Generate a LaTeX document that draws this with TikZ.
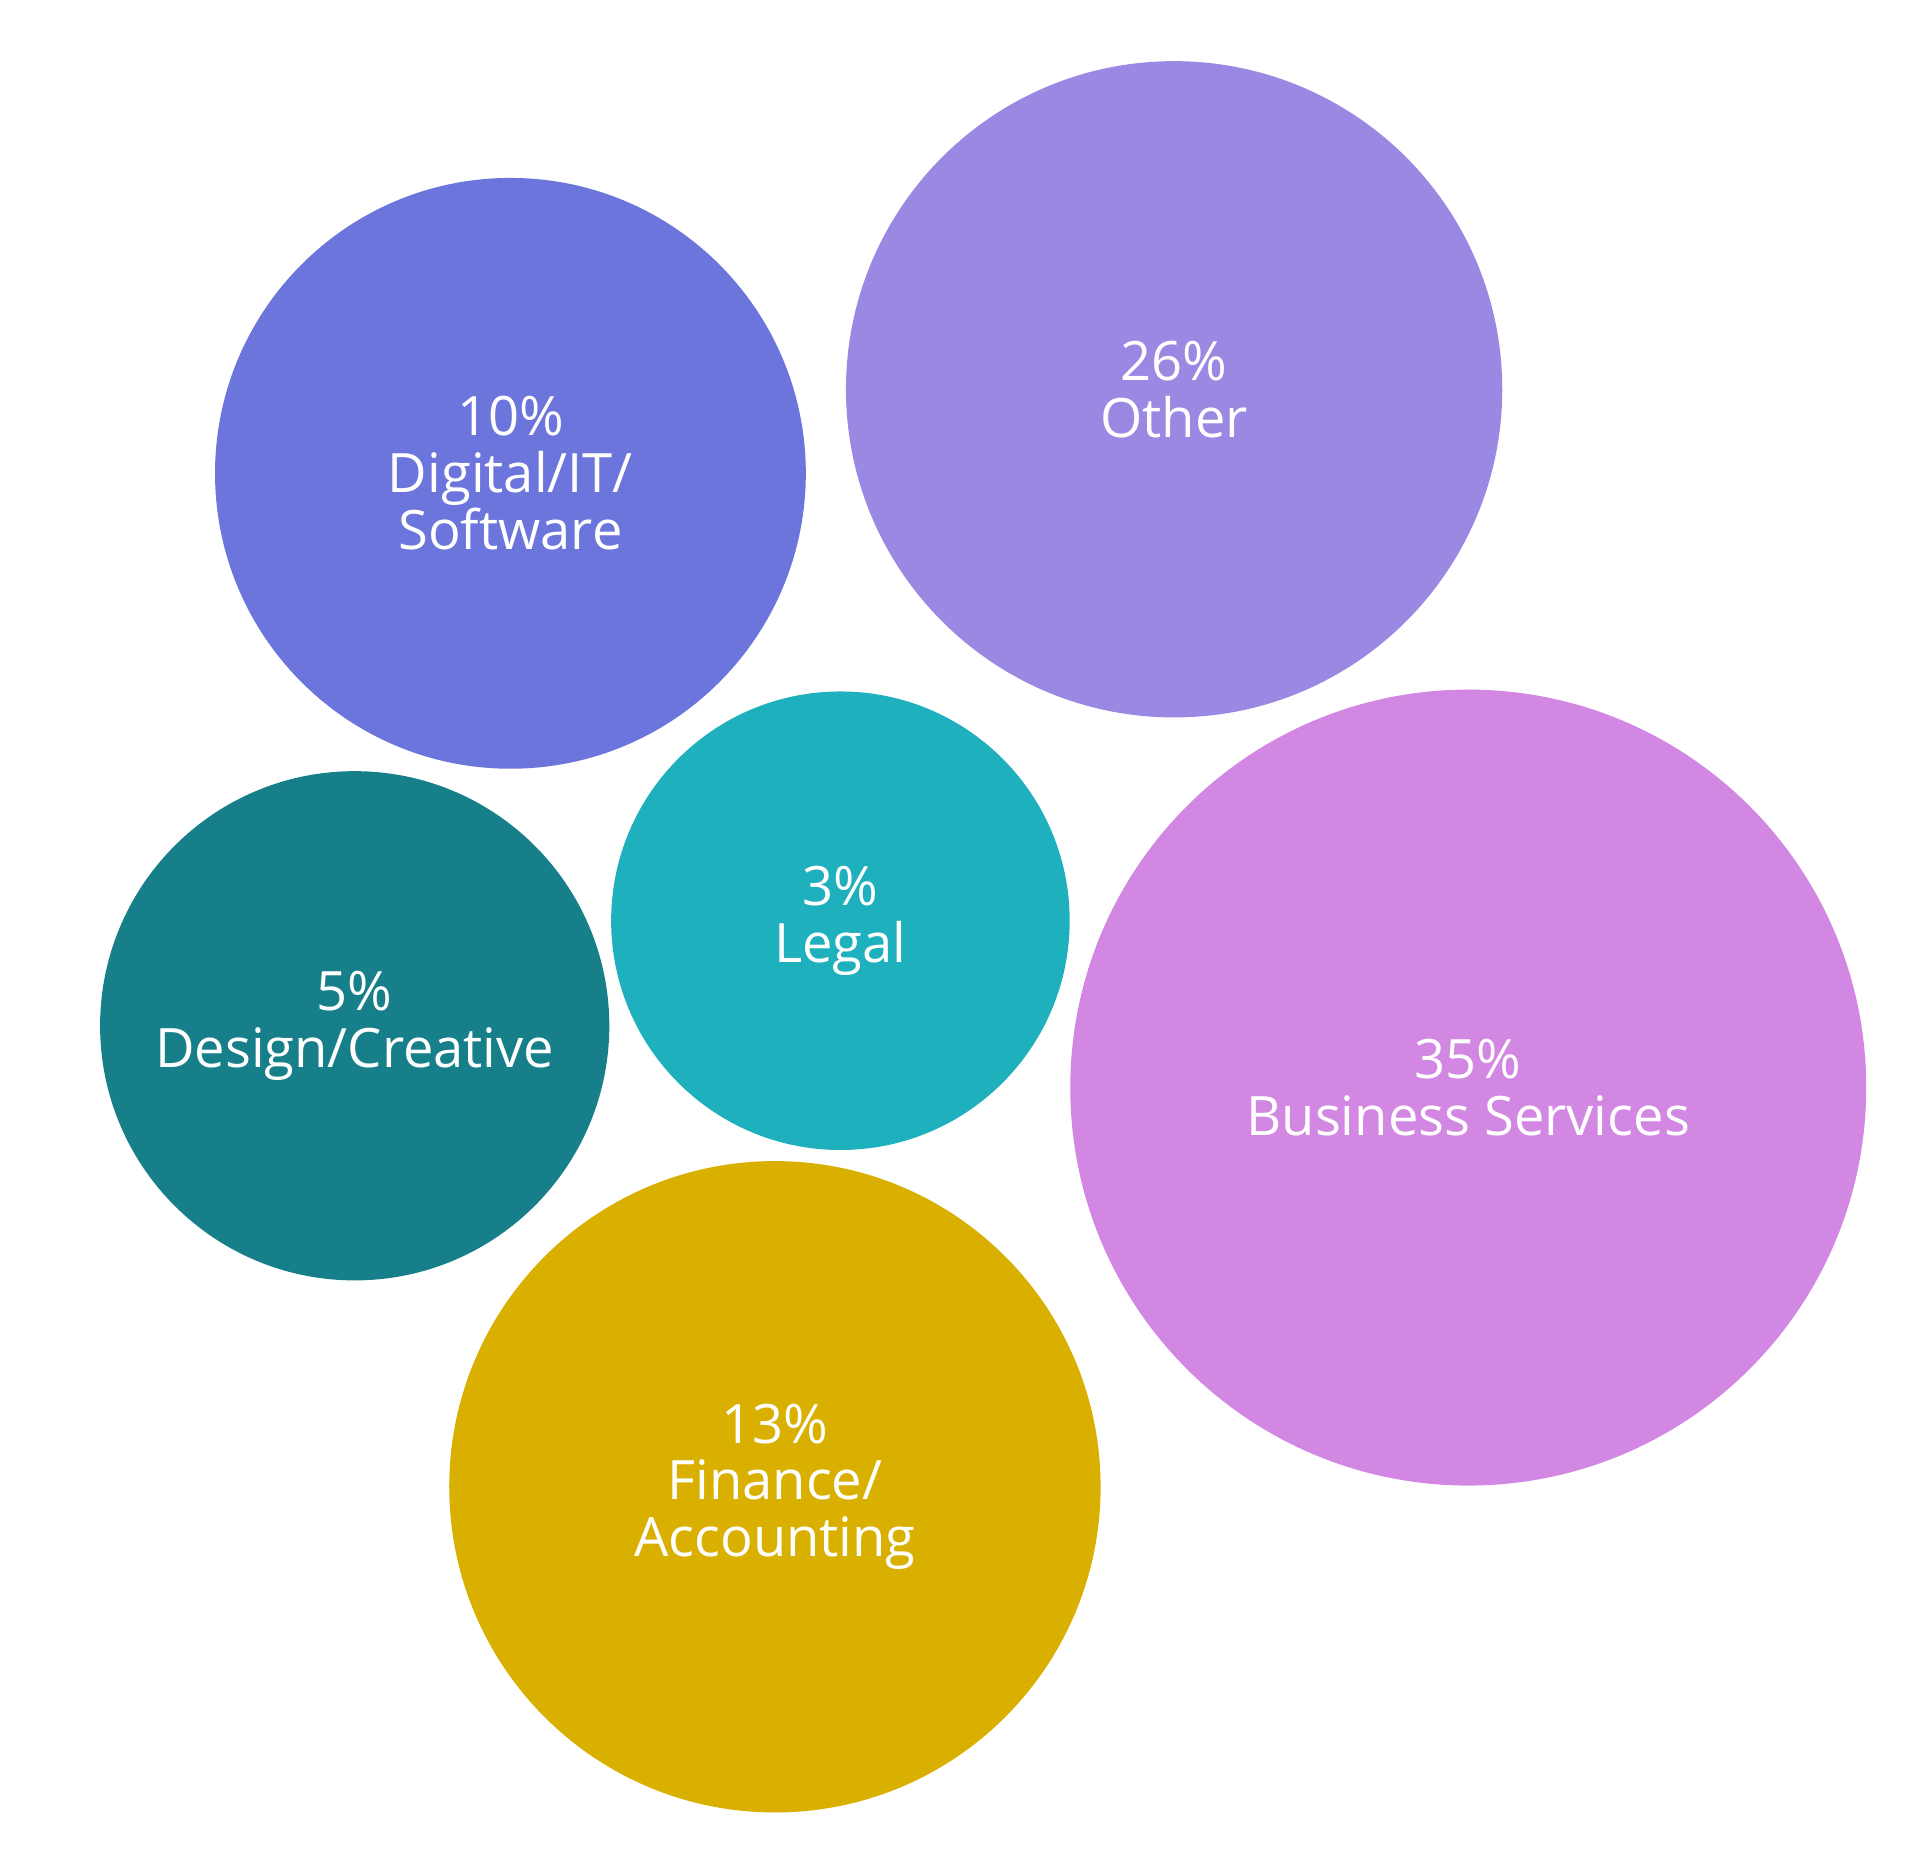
\documentclass[tikz,border=0pt]{standalone}
\usepackage{fontspec}
\setmainfont{Open Sans}
\definecolor{cdig}{HTML}{6C75DB}
\definecolor{coth}{HTML}{9B88E3}
\definecolor{cleg}{HTML}{1FB0BE}
\definecolor{cdes}{HTML}{177F89}
\definecolor{cbus}{HTML}{D288E3}
\definecolor{cfin}{HTML}{DAB000}
\tikzset{bubble/.style={circle,inner sep=0pt,text=white,align=center,
  font=\fontsize{12.5}{13.1}\selectfont}}
\begin{document}
\begin{tikzpicture}[x=0.1mm,y=-0.1mm]
\useasboundingbox (0,0) rectangle (1560,1498);
\node[bubble,fill=cdig,minimum size=478mm*0.1] (dig) at (413,383) {10\%\\Digital/IT/\\Software};
\node[bubble,fill=coth,minimum size=531mm*0.1] (oth) at (950,315) {26\%\\Other};
\node[bubble,fill=cleg,minimum size=371mm*0.1] (leg) at (680,745) {3\%\\Legal};
\node[bubble,fill=cdes,minimum size=412mm*0.1] (des) at (287,830) {5\%\\Design/Creative};
\node[bubble,fill=cbus,minimum size=644mm*0.1] (bus) at (1188,880) {35\%\\Business Services};
\node[bubble,fill=cfin,minimum size=527mm*0.1] (fin) at (627,1203) {13\%\\Finance/\\Accounting};
\end{tikzpicture}
\end{document}
